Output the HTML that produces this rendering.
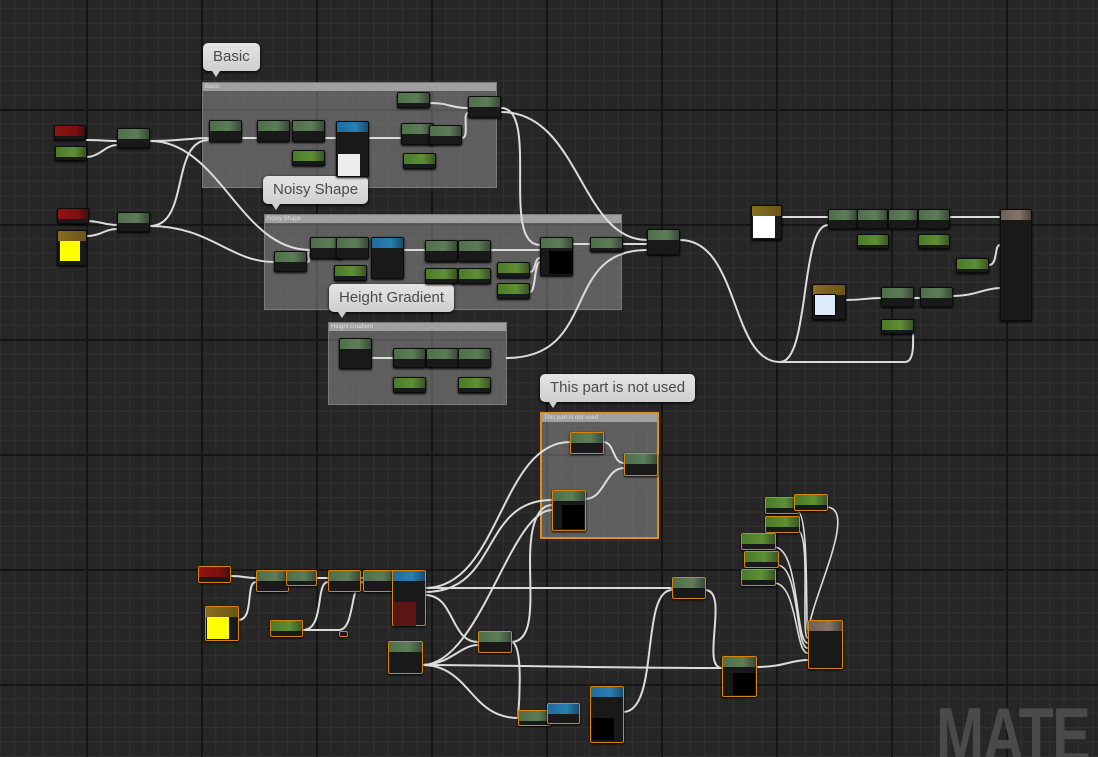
<!DOCTYPE html>
<html style="width:1098px;height:757px;overflow:hidden"><head><meta charset="utf-8"><style>
*{margin:0;padding:0;box-sizing:border-box}
body{width:1098px;height:757px;overflow:hidden;position:relative;background-color:#262626;
background-image:linear-gradient(#151515 2px,transparent 2px),linear-gradient(90deg,#151515 2px,transparent 2px),linear-gradient(#313131 1px,transparent 1px),linear-gradient(90deg,#313131 1px,transparent 1px);
background-size:115px 115px,115px 115px,14.375px 14.375px,14.375px 14.375px;
background-position:86px 109px,86px 109px,86px 109px,86px 109px;font-family:"Liberation Sans",sans-serif}
.wrap{position:absolute;left:0;top:0;width:1098px;height:757px;overflow:hidden}
.c{position:absolute;background:rgba(150,150,150,0.5);border:1px solid #7a7a7a}
.c b{display:block;height:8px;background:#a0a0a0;font-size:6px;color:#ddd;font-weight:normal;padding-left:2px;line-height:8px}
.c.s{border:2px solid #e0901a}
.n{position:absolute;background:#181918;border:1px solid #0c0c0c;border-radius:2px;box-shadow:0 1px 2px #000}
.n.s{border:1.5px solid #d8850a}
.h{display:block;height:10px;border-radius:1px 1px 0 0}
.g{background:linear-gradient(90deg,#4f6e4a,#5d7d58 60%,#3a4a38)}
.G{background:linear-gradient(90deg,#4c7a28,#5e8f34 60%,#3b5424)}
.r{background:linear-gradient(90deg,#8e1414,#7a1010 70%,#3a1010)}
.y{background:linear-gradient(90deg,#8a6e1e,#6a5518)}
.b{background:linear-gradient(90deg,#1d6c9e,#2a7fb0 60%,#1a4c6a)}
.t{background:linear-gradient(90deg,#6e6054,#857567 60%,#4c433c)}
.sq{position:absolute}
.bb{position:absolute;background:linear-gradient(#e4e4e4,#cfcfcf);border-radius:5px;color:#4a4a4a;font-size:15px;line-height:28px;padding:0 10px;box-shadow:0 1px 3px #000}
.bb:after{content:"";position:absolute;left:9px;bottom:-6px;border-left:4px solid transparent;border-right:4px solid transparent;border-top:6px solid #d0d0d0}
svg{position:absolute;left:0;top:0}
.m{position:absolute;left:936px;top:690px;font-size:78px;font-weight:bold;color:#4a4a4a;letter-spacing:-2px;transform:scaleX(0.74);transform-origin:left top;white-space:nowrap}
</style></head><body><div class="wrap">
<div class="m">MATE</div>
<div class="c" style="left:202px;top:82px;width:295px;height:106px"><b>Basic</b></div>
<div class="c" style="left:264px;top:214px;width:358px;height:96px"><b>Noisy Shape</b></div>
<div class="c" style="left:328px;top:322px;width:179px;height:83px"><b>Height Gradient</b></div>
<div class="c s" style="left:540px;top:412px;width:119px;height:127px"><b>This part is not used</b></div>

<svg width="1098" height="757" fill="none" stroke="#dcdcdc" stroke-width="2">
<path d="M86 140C100 140 105 141 117 141"/><path d="M86 157C100 157 105 145 117 145"/>
<path d="M150 141C180 141 190 138 209 138"/><path d="M242 138H257M325 138H336"/>
<path d="M150 141C220 141 240 250 310 250"/>
<path d="M150 226C190 226 170 140 209 140"/><path d="M150 226C210 226 230 262 274 262"/>
<path d="M86 221C100 221 105 225 117 225"/><path d="M87 236C100 236 105 229 117 229"/>
<path d="M369 138H401"/><path d="M430 103C450 103 450 108 468 108"/>
<path d="M462 138C470 138 462 113 468 113"/>
<path d="M501 108C540 108 500 245 540 245"/><path d="M501 112C580 112 580 240 647 240"/>
<path d="M307 262C312 262 305 252 310 252"/><path d="M404 250H425M491 250H540"/>
<path d="M530 272C536 272 534 258 540 258"/><path d="M530 292C536 292 534 262 540 262"/>
<path d="M573 244H590M623 244H647"/>
<path d="M506 358C600 358 560 250 647 250"/><path d="M372 358H393"/>
<path d="M680 240C740 240 730 362 780 362C810 362 800 225 828 225"/>
<path d="M780 362H905C915 362 913 340 913 330"/>
<path d="M782 217C800 217 810 217 828 217"/><path d="M950 217H1000"/>
<path d="M989 265C998 265 994 245 1000 245"/><path d="M953 296C975 296 985 288 1000 288"/>
<path d="M846 300C865 300 865 298 881 298"/><path d="M914 298H920"/>
<path d="M603 442C615 442 612 463 624 463"/><path d="M585 499C605 499 605 468 624 468"/>
<path d="M425 588C500 588 500 442 570 442"/><path d="M425 592C500 592 480 500 552 500"/>
<path d="M425 588H672"/><path d="M425 595C455 595 450 642 478 642"/>
<path d="M511 642C535 642 530 600 530 560C530 520 540 505 552 505"/>
<path d="M511 642C525 642 518 717 518 717"/>
<path d="M422 665C500 665 600 668 722 668"/><path d="M422 665C450 665 460 645 478 645"/>
<path d="M422 665C470 665 470 718 518 718"/><path d="M422 665C480 665 510 510 552 510"/>
<path d="M623 712C660 712 640 590 672 590"/><path d="M705 590C730 590 700 668 722 668"/>
<path d="M756 667C785 667 790 660 808 660"/>
<path d="M231 576C245 576 245 578 256 578"/><path d="M238 620C255 620 245 582 256 582"/>
<path d="M303 630H339C355 630 350 582 363 582"/><path d="M303 630C325 630 315 582 328 582"/>
<path d="M316 578H328M361 578H363"/>
<path d="M797 511C810 511 805 630 808 630M826 507C860 507 810 600 808 634M797 530C812 530 800 640 808 638M774 547C800 547 795 645 808 643M777 565C800 565 795 650 808 648M774 583C798 583 795 655 808 653" stroke-width="1.6"/>
</svg>

<div class="bb" style="left:203px;top:43px">Basic</div>
<div class="bb" style="left:263px;top:176px">Noisy Shape</div>
<div class="bb" style="left:329px;top:284px">Height Gradient</div>
<div class="bb" style="left:540px;top:374px">This part is not used</div>

<div class="n" style="left:54px;top:125px;width:32px;height:15px"><i class="h r"></i></div>
<div class="n" style="left:55px;top:146px;width:32px;height:15px"><i class="h G"></i></div>
<div class="n" style="left:117px;top:128px;width:33px;height:20px"><i class="h g"></i></div>
<div class="n" style="left:57px;top:208px;width:32px;height:16px"><i class="h r"></i></div>
<div class="n" style="left:57px;top:230px;width:30px;height:36px"><i class="h y"></i><div class="sq" style="left:2px;top:10px;width:20px;height:20px;background:#ff0"></div></div>
<div class="n" style="left:117px;top:212px;width:33px;height:20px"><i class="h g"></i></div>
<div class="n" style="left:209px;top:120px;width:33px;height:22px"><i class="h g"></i></div>
<div class="n" style="left:257px;top:120px;width:33px;height:22px"><i class="h g"></i></div>
<div class="n" style="left:292px;top:120px;width:33px;height:22px"><i class="h g"></i></div>
<div class="n" style="left:292px;top:150px;width:33px;height:16px"><i class="h G"></i></div>
<div class="n" style="left:336px;top:121px;width:33px;height:56px"><i class="h b"></i><div class="sq" style="left:1px;top:32px;width:22px;height:22px;background:#eee"></div></div>
<div class="n" style="left:397px;top:92px;width:33px;height:16px"><i class="h g"></i></div>
<div class="n" style="left:468px;top:96px;width:33px;height:22px"><i class="h g"></i></div>
<div class="n" style="left:401px;top:123px;width:33px;height:22px"><i class="h g"></i></div>
<div class="n" style="left:429px;top:125px;width:33px;height:20px"><i class="h g"></i></div>
<div class="n" style="left:403px;top:153px;width:33px;height:16px"><i class="h G"></i></div>
<div class="n" style="left:274px;top:251px;width:33px;height:21px"><i class="h g"></i></div>
<div class="n" style="left:310px;top:237px;width:33px;height:22px"><i class="h g"></i></div>
<div class="n" style="left:336px;top:237px;width:33px;height:22px"><i class="h g"></i></div>
<div class="n" style="left:334px;top:265px;width:33px;height:16px"><i class="h G"></i></div>
<div class="n" style="left:371px;top:237px;width:33px;height:42px"><i class="h b"></i></div>
<div class="n" style="left:425px;top:240px;width:33px;height:22px"><i class="h g"></i></div>
<div class="n" style="left:458px;top:240px;width:33px;height:22px"><i class="h g"></i></div>
<div class="n" style="left:425px;top:268px;width:33px;height:16px"><i class="h G"></i></div>
<div class="n" style="left:458px;top:268px;width:33px;height:16px"><i class="h G"></i></div>
<div class="n" style="left:497px;top:262px;width:33px;height:16px"><i class="h G"></i></div>
<div class="n" style="left:497px;top:283px;width:33px;height:16px"><i class="h G"></i></div>
<div class="n" style="left:540px;top:237px;width:33px;height:39px"><i class="h g"></i><div class="sq" style="left:8px;top:13px;width:24px;height:23px;background:#000"></div></div>
<div class="n" style="left:590px;top:237px;width:33px;height:15px"><i class="h g"></i></div>
<div class="n" style="left:647px;top:229px;width:33px;height:26px"><i class="h g"></i></div>
<div class="n" style="left:339px;top:338px;width:33px;height:31px"><i class="h g"></i></div>
<div class="n" style="left:393px;top:348px;width:33px;height:20px"><i class="h g"></i></div>
<div class="n" style="left:426px;top:348px;width:33px;height:20px"><i class="h g"></i></div>
<div class="n" style="left:458px;top:348px;width:33px;height:20px"><i class="h g"></i></div>
<div class="n" style="left:393px;top:377px;width:33px;height:16px"><i class="h G"></i></div>
<div class="n" style="left:458px;top:377px;width:33px;height:16px"><i class="h G"></i></div>
<div class="n" style="left:751px;top:205px;width:31px;height:35px"><i class="h y"></i><div class="sq" style="left:1px;top:10px;width:22px;height:22px;background:#fff"></div></div>
<div class="n" style="left:828px;top:209px;width:30px;height:20px"><i class="h g"></i></div>
<div class="n" style="left:857px;top:209px;width:31px;height:20px"><i class="h g"></i></div>
<div class="n" style="left:888px;top:209px;width:30px;height:20px"><i class="h g"></i></div>
<div class="n" style="left:918px;top:209px;width:32px;height:20px"><i class="h g"></i></div>
<div class="n" style="left:857px;top:234px;width:32px;height:15px"><i class="h G"></i></div>
<div class="n" style="left:918px;top:234px;width:32px;height:15px"><i class="h G"></i></div>
<div class="n" style="left:1000px;top:209px;width:32px;height:112px"><i class="h t"></i></div>
<div class="n" style="left:956px;top:258px;width:33px;height:15px"><i class="h G"></i></div>
<div class="n" style="left:812px;top:284px;width:34px;height:36px"><i class="h y"></i><div class="sq" style="left:1px;top:9px;width:22px;height:22px;background:#dcecfc;border:1px solid #000"></div></div>
<div class="n" style="left:881px;top:287px;width:33px;height:20px"><i class="h g"></i></div>
<div class="n" style="left:920px;top:287px;width:33px;height:20px"><i class="h g"></i></div>
<div class="n" style="left:881px;top:319px;width:33px;height:15px"><i class="h G"></i></div>
<div class="n s" style="left:570px;top:432px;width:34px;height:22px"><i class="h g"></i></div>
<div class="n s" style="left:624px;top:453px;width:34px;height:23px"><i class="h g"></i></div>
<div class="n s" style="left:552px;top:490px;width:34px;height:41px"><i class="h g"></i><div class="sq" style="left:9px;top:14px;width:22px;height:24px;background:#000"></div></div>
<div class="n s" style="left:198px;top:566px;width:33px;height:17px"><i class="h r"></i></div>
<div class="n s" style="left:205px;top:606px;width:34px;height:35px"><i class="h y"></i><div class="sq" style="left:1px;top:10px;width:22px;height:22px;background:#ff0"></div></div>
<div class="n s" style="left:256px;top:570px;width:33px;height:22px"><i class="h g"></i></div>
<div class="n s" style="left:286px;top:570px;width:31px;height:16px"><i class="h g"></i></div>
<div class="n s" style="left:270px;top:620px;width:33px;height:17px"><i class="h G"></i></div>
<div class="n s" style="left:328px;top:570px;width:33px;height:22px"><i class="h g"></i></div>
<div class="n s" style="left:363px;top:570px;width:33px;height:22px"><i class="h g"></i></div>
<div class="n s" style="left:392px;top:570px;width:34px;height:56px"><i class="h b"></i><div class="sq" style="left:1px;top:31px;width:22px;height:24px;background:#5a1515"></div></div>
<div class="n s" style="left:339px;top:631px;width:9px;height:6px"></div>
<div class="n s" style="left:388px;top:641px;width:35px;height:33px"><i class="h g"></i></div>
<div class="n s" style="left:478px;top:631px;width:34px;height:22px"><i class="h g"></i></div>
<div class="n s" style="left:518px;top:710px;width:33px;height:16px"><i class="h g"></i></div>
<div class="n s" style="left:547px;top:703px;width:33px;height:21px"><i class="h b"></i></div>
<div class="n s" style="left:590px;top:686px;width:34px;height:57px"><i class="h b"></i><div class="sq" style="left:1px;top:31px;width:22px;height:22px;background:#000"></div></div>
<div class="n s" style="left:672px;top:577px;width:34px;height:22px"><i class="h g"></i></div>
<div class="n s" style="left:722px;top:656px;width:35px;height:41px"><i class="h g"></i><div class="sq" style="left:10px;top:16px;width:22px;height:22px;background:#000"></div></div>
<div class="n s" style="left:808px;top:620px;width:35px;height:49px"><i class="h t"></i></div>
<div class="n s" style="left:765px;top:497px;width:34px;height:17px"><i class="h G"></i></div>
<div class="n s" style="left:794px;top:494px;width:34px;height:17px"><i class="h G"></i></div>
<div class="n s" style="left:765px;top:516px;width:35px;height:17px"><i class="h G"></i></div>
<div class="n s" style="left:741px;top:533px;width:35px;height:17px"><i class="h G"></i></div>
<div class="n s" style="left:744px;top:551px;width:35px;height:17px"><i class="h G"></i></div>
<div class="n s" style="left:741px;top:569px;width:35px;height:17px"><i class="h G"></i></div>
</div></body></html>
